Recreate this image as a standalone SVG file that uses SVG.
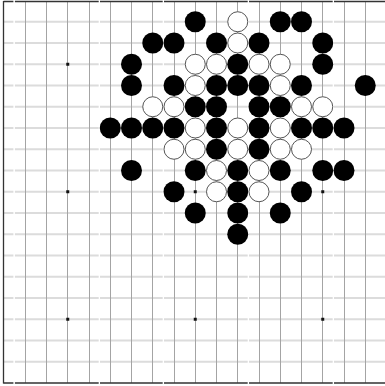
<svg xmlns="http://www.w3.org/2000/svg" xmlns:xlink="http://www.w3.org/1999/xlink" width="385" height="386" viewBox="0 0 385 386">
<style>
.h{fill:none;stroke:#dcdcdc;stroke-width:2}
.bd{fill:none;stroke:#333;stroke-width:1.3}
.v{fill:none;stroke:#a4a4a4;stroke-width:1}
.b{fill:#000}
.w{fill:#fff;stroke:#555;stroke-width:1}
.s{fill:#111}
</style>
<defs>
<path id="hl" d="M3.5 0H13.4M14.9 0H98.7M100 0H162.7M164 0H247.7M249 0H332.7M334 0H385"/>
</defs>
<rect width="385" height="386" fill="#fff"/>
<g id="grid">
<g class="h">
<use xlink:href="#hl" y="21.75"/><use xlink:href="#hl" y="43"/><use xlink:href="#hl" y="64.25"/><use xlink:href="#hl" y="85.5"/><use xlink:href="#hl" y="106.75"/><use xlink:href="#hl" y="128"/><use xlink:href="#hl" y="149.25"/><use xlink:href="#hl" y="170.5"/><use xlink:href="#hl" y="191.75"/><use xlink:href="#hl" y="213"/><use xlink:href="#hl" y="234.25"/><use xlink:href="#hl" y="255.5"/><use xlink:href="#hl" y="276.75"/><use xlink:href="#hl" y="298"/><use xlink:href="#hl" y="319.25"/><use xlink:href="#hl" y="340.5"/><use xlink:href="#hl" y="361.75"/>
</g>
<path class="v" d="M25.5 1.5V383M46.5 1.5V383M67.5 1.5V383M89.5 1.5V383M110.5 1.5V383M131.5 1.5V383M152.5 1.5V383M174.5 1.5V383M195.5 1.5V383M216.5 1.5V383M237.5 1.5V383M259.5 1.5V383M280.5 1.5V383M301.5 1.5V383M322.5 1.5V383M344.5 1.5V383M365.5 1.5V383"/>
<g class="bd">
<use xlink:href="#hl" y="1.5"/><use xlink:href="#hl" y="383"/>
<path d="M3.5 1V383.5"/>
</g>
<g class="s">
<rect x="66.25" y="62.75" width="3" height="3"/><rect x="193.75" y="62.75" width="3" height="3"/><rect x="321.25" y="62.75" width="3" height="3"/>
<rect x="66.25" y="190.25" width="3" height="3"/><rect x="193.75" y="190.25" width="3" height="3"/><rect x="321.25" y="190.25" width="3" height="3"/>
<rect x="66.25" y="317.75" width="3" height="3"/><rect x="193.75" y="317.75" width="3" height="3"/><rect x="321.25" y="317.75" width="3" height="3"/>
</g>
</g>
<g id="black-stones" class="b">
<circle cx="195.25" cy="21.75" r="10.5"/><circle cx="280.25" cy="21.75" r="10.5"/><circle cx="301.5" cy="21.75" r="10.5"/>
<circle cx="152.75" cy="43" r="10.5"/><circle cx="174" cy="43" r="10.5"/><circle cx="216.5" cy="43" r="10.5"/><circle cx="259" cy="43" r="10.5"/><circle cx="322.75" cy="43" r="10.5"/>
<circle cx="131.5" cy="64.25" r="10.5"/><circle cx="237.75" cy="64.25" r="10.5"/><circle cx="322.75" cy="64.25" r="10.5"/>
<circle cx="131.5" cy="85.5" r="10.5"/><circle cx="174" cy="85.5" r="10.5"/><circle cx="216.5" cy="85.5" r="10.5"/><circle cx="237.75" cy="85.5" r="10.5"/><circle cx="259" cy="85.5" r="10.5"/><circle cx="301.5" cy="85.5" r="10.5"/><circle cx="365.25" cy="85.5" r="10.5"/>
<circle cx="195.25" cy="106.75" r="10.5"/><circle cx="216.5" cy="106.75" r="10.5"/><circle cx="259" cy="106.75" r="10.5"/><circle cx="280.25" cy="106.75" r="10.5"/>
<circle cx="110.25" cy="128" r="10.5"/><circle cx="131.5" cy="128" r="10.5"/><circle cx="152.75" cy="128" r="10.5"/><circle cx="174" cy="128" r="10.5"/><circle cx="216.5" cy="128" r="10.5"/><circle cx="259" cy="128" r="10.5"/><circle cx="301.5" cy="128" r="10.5"/><circle cx="322.75" cy="128" r="10.5"/><circle cx="344" cy="128" r="10.5"/>
<circle cx="216.5" cy="149.25" r="10.5"/><circle cx="259" cy="149.25" r="10.5"/>
<circle cx="131.5" cy="170.5" r="10.5"/><circle cx="195.25" cy="170.5" r="10.5"/><circle cx="237.75" cy="170.5" r="10.5"/><circle cx="280.25" cy="170.5" r="10.5"/><circle cx="322.75" cy="170.5" r="10.5"/><circle cx="344" cy="170.5" r="10.5"/>
<circle cx="174" cy="191.75" r="10.5"/><circle cx="237.75" cy="191.75" r="10.5"/><circle cx="301.5" cy="191.75" r="10.5"/>
<circle cx="195.25" cy="213" r="10.5"/><circle cx="237.75" cy="213" r="10.5"/><circle cx="280.25" cy="213" r="10.5"/>
<circle cx="237.75" cy="234.25" r="10.5"/>
</g>
<g id="white-stones" class="w">
<circle cx="237.75" cy="21.75" r="10"/>
<circle cx="237.75" cy="43" r="10"/>
<circle cx="195.25" cy="64.25" r="10"/><circle cx="216.5" cy="64.25" r="10"/><circle cx="259" cy="64.25" r="10"/><circle cx="280.25" cy="64.25" r="10"/>
<circle cx="195.25" cy="85.5" r="10"/><circle cx="280.25" cy="85.5" r="10"/>
<circle cx="152.75" cy="106.75" r="10"/><circle cx="174" cy="106.75" r="10"/><circle cx="301.5" cy="106.75" r="10"/><circle cx="322.75" cy="106.75" r="10"/>
<circle cx="195.25" cy="128" r="10"/><circle cx="237.75" cy="128" r="10"/><circle cx="280.25" cy="128" r="10"/>
<circle cx="174" cy="149.25" r="10"/><circle cx="195.25" cy="149.25" r="10"/><circle cx="237.75" cy="149.25" r="10"/><circle cx="280.25" cy="149.25" r="10"/><circle cx="301.5" cy="149.25" r="10"/>
<circle cx="216.5" cy="170.5" r="10"/><circle cx="259" cy="170.5" r="10"/>
<circle cx="216.5" cy="191.75" r="10"/><circle cx="259" cy="191.75" r="10"/>
</g>
</svg>
